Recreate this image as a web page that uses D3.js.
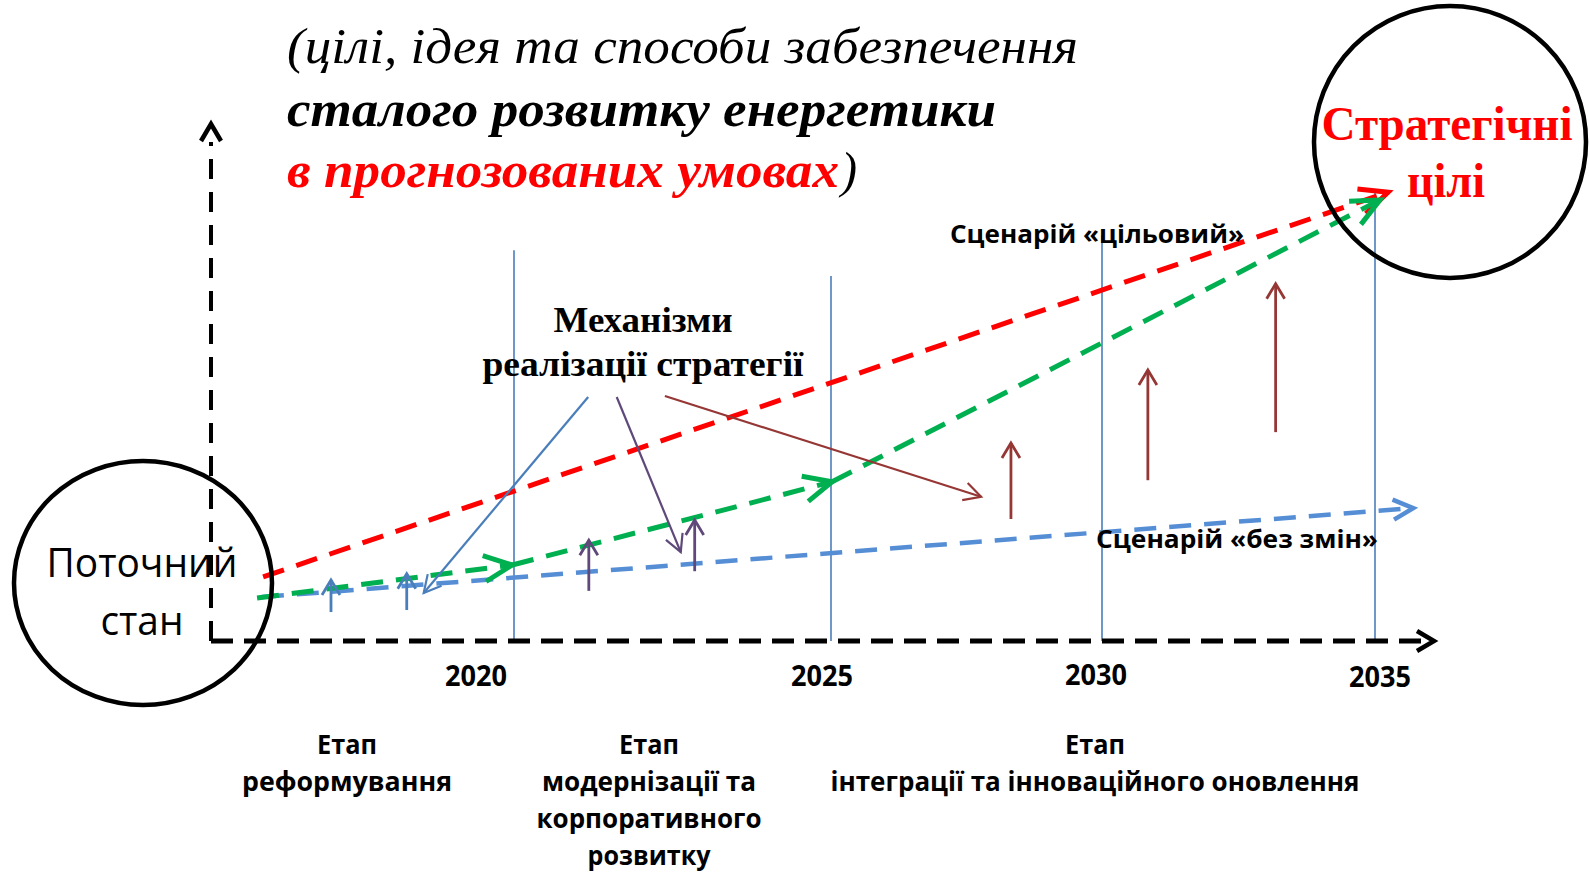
<!DOCTYPE html>
<html><head><meta charset="utf-8">
<script src="https://cdn.jsdelivr.net/npm/d3@7"></script>
<style>html,body{margin:0;padding:0;background:#fff;overflow:hidden}</style>
</head><body><svg id="c" width="1589" height="873"></svg>
<script>
// ---------------- DATA ----------------
const years = [2020, 2025, 2030, 2035];
const tickLabels = ["2020", "2025", "2030", "2035"];
const yearLineTop = [75.6, 70.6, 78.5, 86.8];           // level where each phase line starts
const redScenario = [[2015.86, 12.4], [2035.24, 86.8]];  // «цільовий» (straight)
const greenScenario = [                                  // staged path, three arrows
  [[2015.76, 8.3], [2019.97, 14.7]],
  [[2019.97, 14.7], [2025.02, 30.8]],
  [[2025.02, 30.8], [2035.09, 85.3]]
];
const blueScenario = [[2015.84, 8.5], [2035.70, 25.7]]; // «без змін»
const mechanismArrows = [
  {group: "blue",   from: [2021.17, 47.2], to: [2018.51, 9.3]},
  {group: "purple", from: [2021.62, 47.2], to: [2022.63, 17.2]},
  {group: "brown",  from: [2022.38, 47.4], to: [2027.77, 27.9]}
];
const upArrows = [
  {group: "blue",   x: 2016.98, y0: 5.6,  y1: 11.8},
  {group: "blue",   x: 2018.23, y0: 6.0,  y1: 13.0},
  {group: "purple", x: 2021.18, y0: 9.7,  y1: 19.5},
  {group: "purple", x: 2022.85, y0: 13.5, y1: 23.4},
  {group: "brown",  x: 2028.32, y0: 23.6, y1: 38.3},
  {group: "brown",  x: 2030.84, y0: 31.1, y1: 52.4},
  {group: "brown",  x: 2033.18, y0: 40.4, y1: 69.1}
];
const titleLines = ["(цілі, ідея та способи забезпечення", "сталого розвитку енергетики", "в прогнозованих умовах", ")"];
const mechanismTitle = ["Механізми", "реалізації стратегії"];
const goalTitle = ["Стратегічні", "цілі"];
const currentTitle = ["Поточний", "стан"];
const scenarioLabels = ["Сценарій «цільовий»", "Сценарій «без змін»"];
const stageLabels = [
  ["Етап", "реформування"],
  ["Етап", "модернізації та", "корпоративного", "розвитку"],
  ["Етап", "інтеграції та інноваційного оновлення"]
];

// ---------------- LAYOUT / STYLE ----------------
const colors = {red: "#FF0000", green: "#00B050", blueDash: "#558ED5", line: "#4A7EBB",
  blue: "#4A7EBB", purple: "#5F497A", brown: "#953735"};
const svg = d3.select("#c");
const x = d3.scaleLinear().domain([2015, 2020, 2025, 2030, 2035, 2036.08])
  .range([211, 514, 831, 1102, 1375, 1434]);
const y = d3.scaleLinear().domain([0, 100]).range([641, 124]);
const P = d => [x(d[0]), y(d[1])];

function arrowHead(g, p0, p1, L, W, color, sw) {
  const dx = p1[0] - p0[0], dy = p1[1] - p0[1], len = Math.hypot(dx, dy);
  const ux = dx / len, uy = dy / len, nx = -uy, ny = ux;
  const bx = p1[0] - L * ux, by = p1[1] - L * uy;
  g.append("path")
    .attr("d", `M${bx + W * nx},${by + W * ny}L${p1[0]},${p1[1]}L${bx - W * nx},${by - W * ny}`)
    .attr("fill", "none").attr("stroke", color).attr("stroke-width", sw)
    .attr("stroke-linejoin", "miter").attr("stroke-linecap", "butt");
}
function line(g, a, b, color, sw, dash) {
  g.append("line").attr("x1", a[0]).attr("y1", a[1]).attr("x2", b[0]).attr("y2", b[1])
    .attr("stroke", color).attr("stroke-width", sw).attr("stroke-dasharray", dash || null);
}
function text(g, str, cx, baseline, o) {
  const t = g.append("text").text(str)
    .attr("x", o.anchor === "start" ? cx : cx - o.len / 2).attr("y", baseline)
    .attr("font-family", o.family).attr("font-size", o.size)
    .attr("font-weight", o.weight || "normal").attr("font-style", o.style || "normal")
    .attr("fill", o.fill || "#000");
  if (o.len) t.attr("textLength", o.len).attr("lengthAdjust", "spacingAndGlyphs");
  return t;
}
const sans = "'Open Sans', 'Noto Sans', sans-serif";
const serif = "'Liberation Serif', 'Times New Roman', serif";

// phase lines
const gl = svg.append("g");
years.forEach((yr, i) => line(gl, [x(yr), y(yearLineTop[i])], [x(yr), y(0)], colors.line, 1.6));

// axes
const ga = svg.append("g");
line(ga, [x(2015), y(0)], [x(2015), y(96.5)], "#000", 4, "20 13");
arrowHead(ga, [x(2015), y(50)], [x(2015), y(100)], 17, 10, "#000", 4.5);
line(ga, [x(2015), y(0)], [x(2035.9), y(0)], "#000", 5, "22 11");
arrowHead(ga, [x(2030), y(0)], [x(2036.08), y(0)], 17, 10, "#000", 4.5);

// tick labels
const labelDx = [-38, -9, -6, 5], labelBase = [686, 686, 685, 687];
tickLabels.forEach((s, i) => text(ga, s, x(years[i]) + labelDx[i], labelBase[i],
  {family: sans, size: 28, weight: "bold", len: 62}));

// scenarios
const gs = svg.append("g");
line(gs, P(blueScenario[0]), P(blueScenario[1]), colors.blueDash, 4.5, "22 13");
arrowHead(gs, P(blueScenario[0]), P(blueScenario[1]), 20, 10, colors.blueDash, 4.5);
line(gs, P(redScenario[0]), P(redScenario[1]), colors.red, 5, "22 13");
arrowHead(gs, P(redScenario[0]), P(redScenario[1]), 28, 13, colors.red, 5);
greenScenario.forEach(seg => {
  line(gs, P(seg[0]), P(seg[1]), colors.green, 5, "22 13");
  arrowHead(gs, P(seg[0]), P(seg[1]), 28, 13, colors.green, 5);
});

// mechanism arrows
const gm = svg.append("g");
mechanismArrows.forEach(m => {
  line(gm, P(m.from), P(m.to), colors[m.group], 2.2);
  arrowHead(gm, P(m.from), P(m.to), 17, 9, colors[m.group], 2.2);
});
upArrows.forEach(u => {
  const a = P([u.x, u.y0]), b = P([u.x, u.y1]);
  line(gm, a, b, colors[u.group], 2.8);
  arrowHead(gm, a, b, 15, 9, colors[u.group], 2.8);
});

// circles
const gc = svg.append("g");
gc.append("ellipse").attr("cx", 143).attr("cy", 583).attr("rx", 129).attr("ry", 122)
  .attr("fill", "none").attr("stroke", "#000").attr("stroke-width", 4.5);
gc.append("ellipse").attr("cx", 1450).attr("cy", 142).attr("rx", 136).attr("ry", 136)
  .attr("fill", "none").attr("stroke", "#000").attr("stroke-width", 4.5);

// texts
const gt = svg.append("g");
text(gt, currentTitle[0], 142, 577, {family: sans, size: 40, len: 191});
text(gt, currentTitle[1], 142, 635, {family: sans, size: 40, len: 83});
text(gt, goalTitle[0], 1447, 140, {family: serif, size: 48, weight: "bold", fill: colors.red, len: 251});
text(gt, goalTitle[1], 1446, 197, {family: serif, size: 48, weight: "bold", fill: colors.red, len: 78});

text(gt, titleLines[0], 287, 63, {anchor: "start", family: serif, size: 51, style: "italic", len: 791});
text(gt, titleLines[1], 287, 126, {anchor: "start", family: serif, size: 51, style: "italic", weight: "bold", len: 709});
text(gt, titleLines[2], 287, 187, {anchor: "start", family: serif, size: 51, style: "italic", weight: "bold", fill: colors.red, len: 552});
text(gt, titleLines[3], 841, 187, {anchor: "start", family: serif, size: 51, style: "italic", len: 16});

text(gt, mechanismTitle[0], 643, 332, {family: serif, size: 36, weight: "bold", len: 179});
text(gt, mechanismTitle[1], 643, 376, {family: serif, size: 36, weight: "bold", len: 321});

text(gt, scenarioLabels[0], 1097, 243, {family: sans, size: 25, weight: "bold", len: 294});
text(gt, scenarioLabels[1], 1237, 548, {family: sans, size: 25, weight: "bold", len: 282});

const stageCx = [347, 649, 1095];
const stageLens = [[60, 210], [60, 214, 225, 123], [60, 529]];
const stageBase = [754, 791, 828, 865];
stageLabels.forEach((lines, i) => lines.forEach((s, j) =>
  text(gt, s, stageCx[i], stageBase[j], {family: sans, size: 26, weight: "bold", len: stageLens[i][j]})));
</script></body></html>
